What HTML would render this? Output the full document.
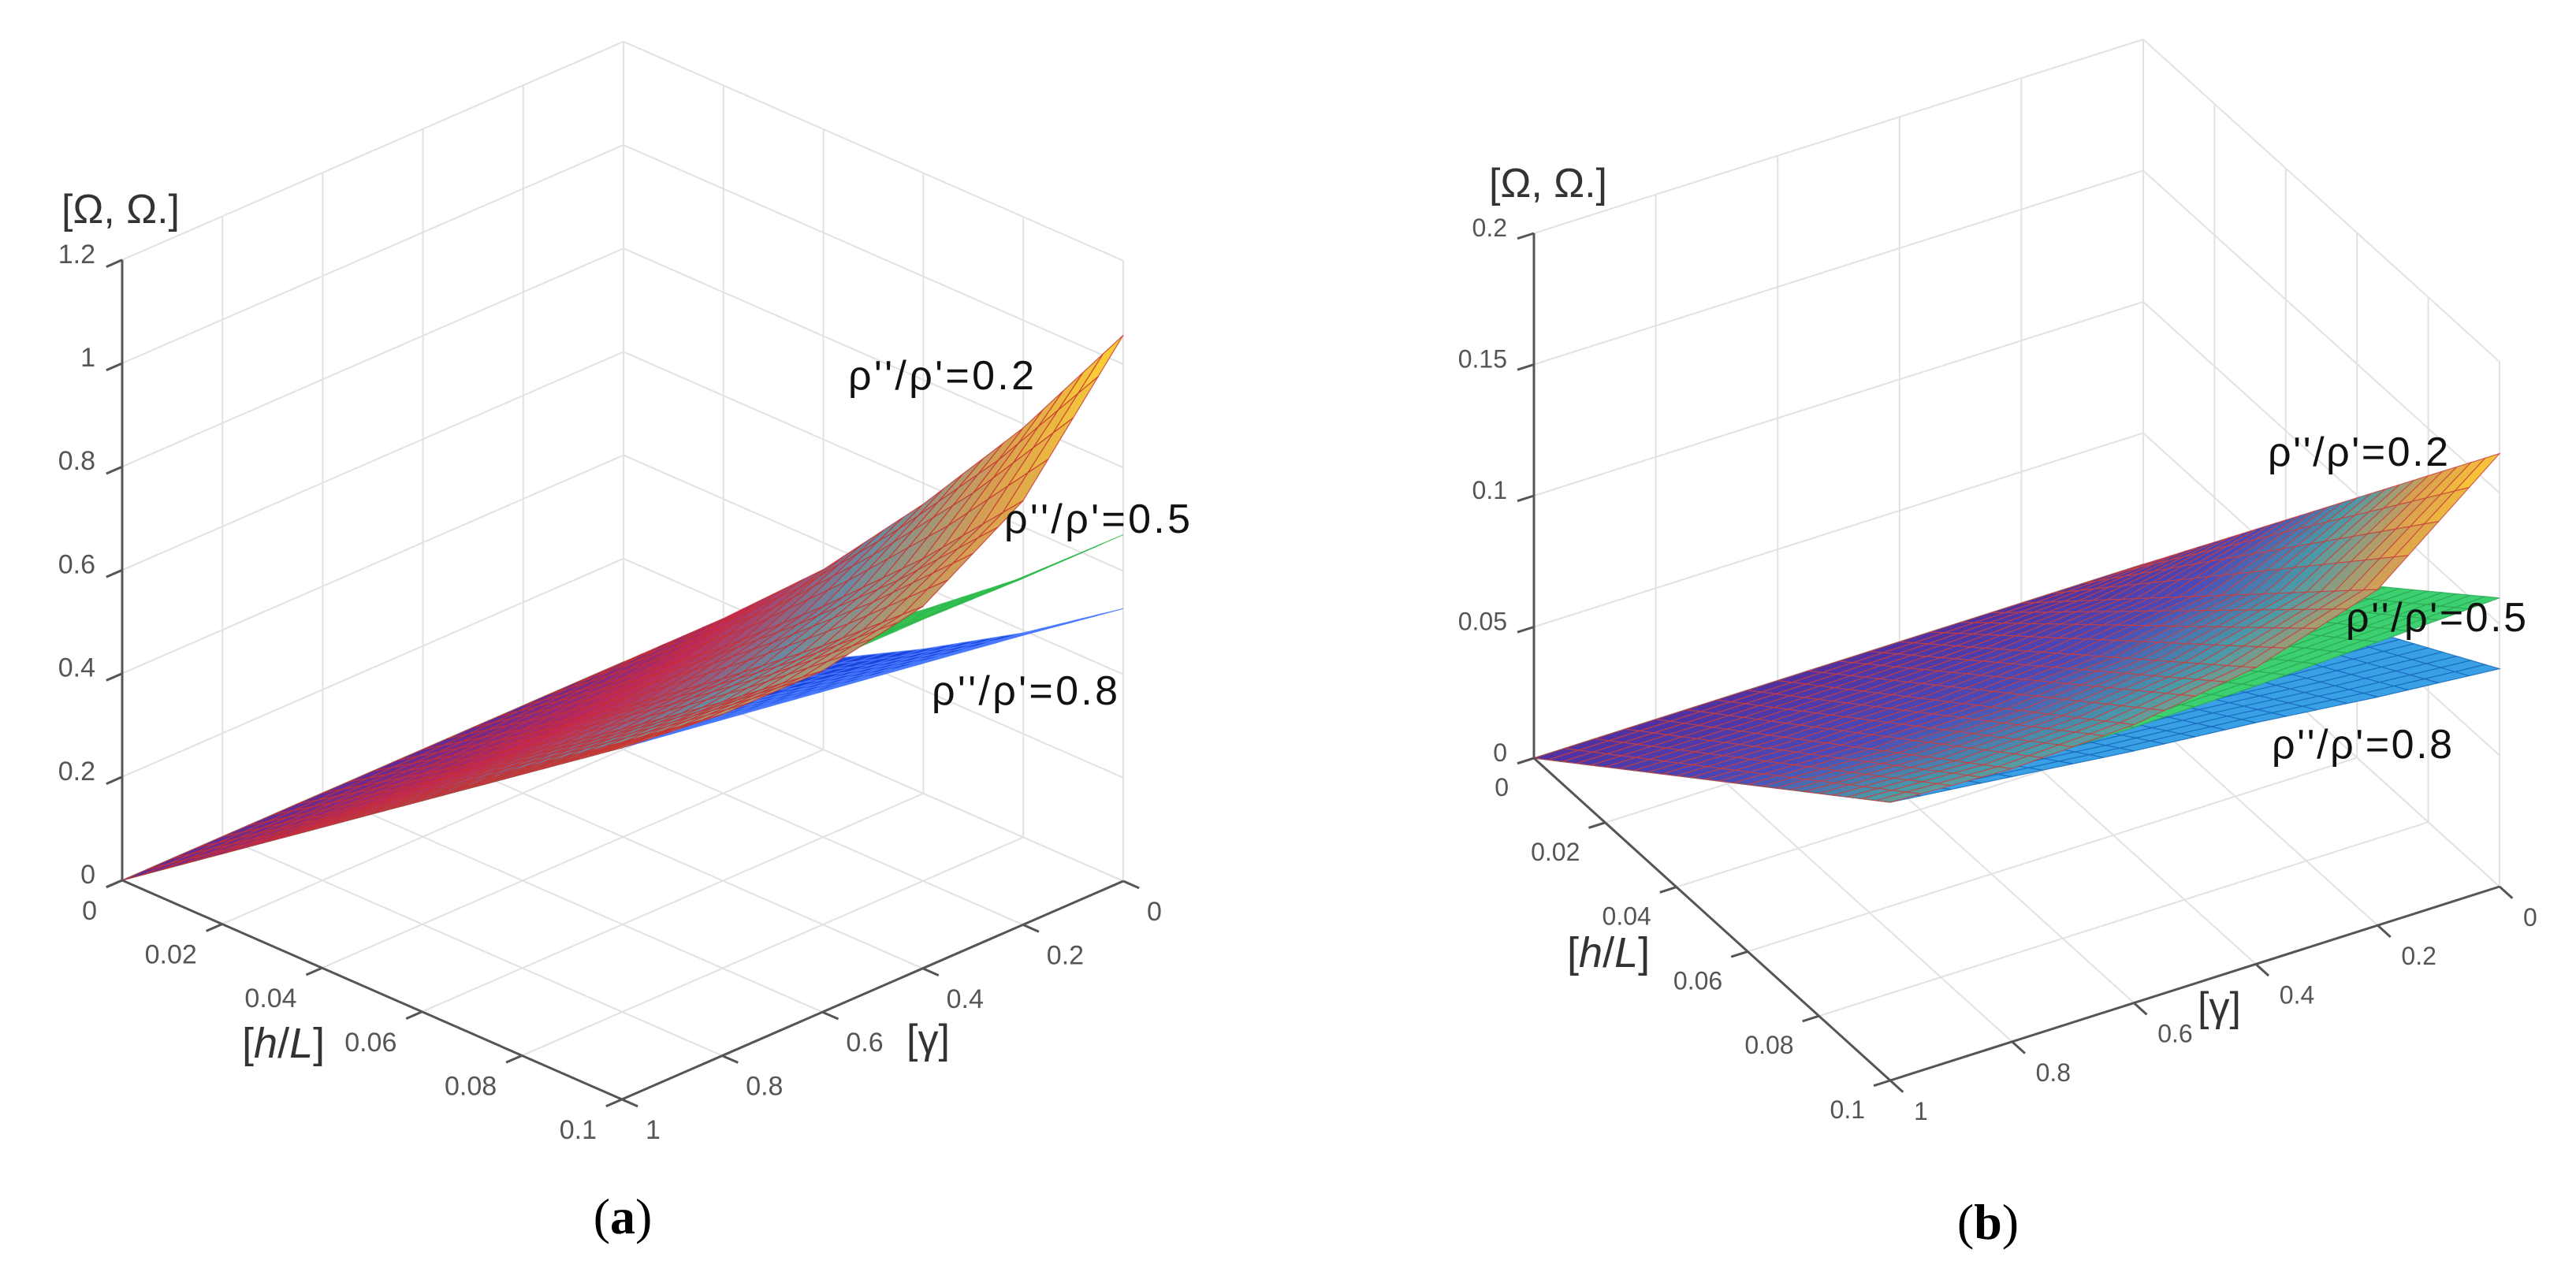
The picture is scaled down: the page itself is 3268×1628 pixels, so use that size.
<!DOCTYPE html>
<html><head><meta charset="utf-8">
<style>
html,body{margin:0;padding:0;background:#fff;}
svg{display:block;font-family:"Liberation Sans",sans-serif;}
</style></head>
<body>
<div style="position:relative;width:3268px;height:1628px;">
<svg id="fig" width="3268" height="1628" viewBox="0 0 3268 1628" xmlns="http://www.w3.org/2000/svg" style="position:absolute;left:0;top:0">
<rect width="3268" height="1628" fill="#fff"/>
<g id="panelA"></g>
<g id="panelB"></g>
<text x="790" y="1565" font-family="Liberation Serif,serif" font-size="64" text-anchor="middle">(<tspan font-weight="bold">a</tspan>)</text>
<text x="2522" y="1572" font-family="Liberation Serif,serif" font-size="64" text-anchor="middle">(<tspan font-weight="bold">b</tspan>)</text>
<g font-family="Liberation Sans,sans-serif">
<text x="78" y="283" font-size="52" fill="#333">[Ω, Ω.]</text>
<text x="307" y="1342" font-size="54" fill="#333">[<tspan font-style="italic">h</tspan>/<tspan font-style="italic">L</tspan>]</text>
<text x="1150" y="1336" font-size="52" fill="#333">[γ]</text>
<text x="1076" y="494" font-size="52" fill="#111" textLength="236">ρ''/ρ'=0.2</text>
<text x="1274" y="676" font-size="52" fill="#111" textLength="236">ρ''/ρ'=0.5</text>
<text x="1182" y="894" font-size="52" fill="#111" textLength="236">ρ''/ρ'=0.8</text>
<text x="1889" y="250" font-size="52" fill="#333">[Ω, Ω.]</text>
<text x="1988" y="1227" font-size="54" fill="#333">[<tspan font-style="italic">h</tspan>/<tspan font-style="italic">L</tspan>]</text>
<text x="2788" y="1295" font-size="52" fill="#333">[γ]</text>
<text x="2877" y="591" font-size="52" fill="#111" textLength="229">ρ''/ρ'=0.2</text>
<text x="2976" y="801" font-size="52" fill="#111" textLength="229">ρ''/ρ'=0.5</text>
<text x="2882" y="962" font-size="52" fill="#111" textLength="229">ρ''/ρ'=0.8</text>
</g>
</svg>
</div>
<script>
// ---- data ----
const hTicks = [0, 0.02, 0.04, 0.06, 0.08, 0.1];
const hTickLabels = ["0", "0.02", "0.04", "0.06", "0.08", "0.1"];
const gammaTicks = [0, 0.2, 0.4, 0.6, 0.8, 1];
const gammaTickLabels = ["0", "0.2", "0.4", "0.6", "0.8", "1"];
const zTicksA = [0, 0.2, 0.4, 0.6, 0.8, 1, 1.2];
const zTickLabelsA = ["0", "0.2", "0.4", "0.6", "0.8", "1", "1.2"];
const zTicksB = [0, 0.05, 0.1, 0.15, 0.2];
const zTickLabelsB = ["0", "0.05", "0.1", "0.15", "0.2"];
// values at h/L = 0.1 over gammaTicks (0..1)
const edgeA02 = [1.056, 0.82, 0.70, 0.66, 0.66, 0.68];
const edgeA05 = [0.67, 0.67, 0.675, 0.675, 0.68, 0.68];
const edgeA08 = [0.527, 0.56, 0.59, 0.62, 0.65, 0.68];
const edgeB02 = [0.165, 0.128, 0.113, 0.106, 0.104, 0.106];
const edgeB05 = [0.110, 0.108, 0.106, 0.105, 0.105, 0.106];
const edgeB08 = [0.083, 0.087, 0.092, 0.096, 0.101, 0.106];
// fraction of the h=0.1 value reached at hTicks, at gamma=0 and gamma=1
const hShapeA_g0 = [0, 0.16, 0.33, 0.53, 0.75, 1];
const hShapeA_g1 = [0, 0.2, 0.4, 0.6, 0.8, 1];
const hShapeB_g0 = [0, 0.2, 0.4, 0.6, 0.8, 1];
const hShapeB_g1 = [0, 0.2, 0.4, 0.6, 0.8, 1];

const NS = "http://www.w3.org/2000/svg";
function mk(tag, attrs, parent){
  const e = document.createElementNS(NS, tag);
  for (const k in attrs) e.setAttribute(k, attrs[k]);
  parent.appendChild(e);
  return e;
}
function interp(xs, ys, x){
  for (let i=0;i<xs.length-1;i++){
    if (x<=xs[i+1]+1e-12){const t=(x-xs[i])/(xs[i+1]-xs[i]);return ys[i]+t*(ys[i+1]-ys[i]);}
  }
  return ys[ys.length-1];
}
function hex(c){return [parseInt(c.substr(1,2),16),parseInt(c.substr(3,2),16),parseInt(c.substr(5,2),16)];}
function grad(stops, t){
  t=Math.max(0,Math.min(1,t));
  for(let i=0;i<stops.length-1;i++){
    if(t<=stops[i+1][0]){
      const u=(t-stops[i][0])/(stops[i+1][0]-stops[i][0]);
      const a=hex(stops[i][1]),b=hex(stops[i+1][1]);
      return "rgb("+a.map((v,k)=>Math.round(v+u*(b[k]-v))).join(",")+")";
    }
  }
  return stops[stops.length-1][1];
}

function renderPanel(g, cfg){
  const P=(h,ga,z)=>[cfg.P0[0]+(h/0.1)*cfg.Vh[0]+(1-ga)*cfg.Vg[0], cfg.P0[1]+(h/0.1)*cfg.Vh[1]+(1-ga)*cfg.Vg[1]-z*cfg.S];
  const zmax=cfg.zTicks[cfg.zTicks.length-1];
  const grid=mk("g",{stroke:"#e2e2e2","stroke-width":2,fill:"none"},g);
  
  
  const line=(a,b,par)=>mk("line",{x1:a[0],y1:a[1],x2:b[0],y2:b[1]},par);
  gammaTicks.forEach(ga=>{line(P(0,ga,0),P(0,ga,zmax),grid);line(P(0,ga,0),P(0.1,ga,0),grid);});
  hTicks.forEach(h=>{line(P(h,0,0),P(h,0,zmax),grid);line(P(h,0,0),P(h,1,0),grid);});
  cfg.zTicks.forEach(z=>{line(P(0,1,z),P(0,0,z),grid);line(P(0,0,z),P(0.1,0,z),grid);});
  line(P(0.1,0,0),P(0.1,0,zmax),grid);

  const nh=25, ng=20;
  cfg.surfaces.forEach(sf=>{
    const sg=mk("g",{},g);
    
    
    const peak=Math.max(...sf.edge);
    const val=(h,ga)=>{
      const s=(1-ga)*interp(hTicks,cfg.shapeG0,h)+ga*interp(hTicks,cfg.shapeG1,h);
      return s*interp(gammaTicks,sf.edge,ga);
    };
    const cells=[];
    for(let i=0;i<nh;i++)for(let j=0;j<ng;j++){
      const h0=0.1*i/nh,h1=0.1*(i+1)/nh,g0=j/ng,g1=(j+1)/ng;
      const pts=[[h0,g0],[h1,g0],[h1,g1],[h0,g1]].map(p=>P(p[0],p[1],val(p[0],p[1])));
      const zc=val((h0+h1)/2,(g0+g1)/2);
      cells.push({d:(h0+h1)/0.2+(g0+g1)/2,pts,zc});
    }
    cells.sort((a,b)=>a.d-b.d);
    cells.forEach(c=>{
      const fill=sf.stops?grad(sf.stops,c.zc/peak):sf.fill;
      mk("polygon",{points:c.pts.map(p=>p[0].toFixed(1)+","+p[1].toFixed(1)).join(" "),fill:fill,stroke:sf.stroke,"stroke-width":1.2,"stroke-opacity":0.8},sg);
    });
  });

  const ax=mk("g",{stroke:"#555","stroke-width":3,fill:"none"},g);
  
  
  line(P(0,1,0),P(0,1,zmax),ax);
  line(P(0,1,0),P(0.1,1,0),ax);
  line(P(0.1,1,0),P(0.1,0,0),ax);
  const nv=v=>{const L=Math.hypot(v[0],v[1]);return [v[0]/L,v[1]/L];};
  const ug=nv(cfg.Vg), uh=nv(cfg.Vh);
  const lab=mk("g",{fill:"#555","font-size":cfg.tickFont},g);
  
  
  cfg.zTicks.forEach((z,k)=>{
    const p=P(0,1,z);
    line(p,[p[0]-ug[0]*22,p[1]-ug[1]*22],ax);
    const t=mk("text",{x:p[0]-34,y:p[1]+4,"text-anchor":"end"},lab);
    t.textContent=cfg.zLabels[k];
  });
  hTicks.forEach((h,k)=>{
    const p=P(h,1,0);
    line(p,[p[0]-ug[0]*22,p[1]-ug[1]*22],ax);
    const t=mk("text",{x:p[0]-32,y:p[1]+cfg.hLabDy,"text-anchor":"end"},lab);
    t.textContent=hTickLabels[k];
  });
  gammaTicks.forEach((ga,k)=>{
    const p=P(0.1,ga,0);
    line(p,[p[0]+uh[0]*22,p[1]+uh[1]*22],ax);
    const t=mk("text",{x:p[0]+cfg.gLabDx,y:p[1]+cfg.gLabDy,"text-anchor":"start"},lab);
    t.textContent=gammaTickLabels[k];
  });
}

renderPanel(document.getElementById("panelA"),{
  P0:[155,1117], Vh:[634,278], Vg:[636,-277], S:656,
  zTicks:zTicksA, zLabels:zTickLabelsA, tickFont:34, hLabDy:50, gLabDx:30, gLabDy:50,
  shapeG0:hShapeA_g0, shapeG1:hShapeA_g1,
  surfaces:[
    {name:"surface-rho-0.8",edge:edgeA08,fill:"#1a44dc",stroke:"#4a7cff"},
    {name:"surface-rho-0.5",edge:edgeA05,fill:"#3cd35c",stroke:"#30b84c"},
    {name:"surface-rho-0.2",edge:edgeA02,stroke:"#c83030",stops:[[0,"#5a2a9c"],[0.2,"#c0285a"],[0.45,"#6a8aa0"],[0.72,"#d8a050"],[1,"#ffd630"]]}
  ]});
renderPanel(document.getElementById("panelB"),{
  P0:[1946,962], Vh:[452,409], Vg:[773,-246], S:3330,
  zTicks:zTicksB, zLabels:zTickLabelsB, tickFont:32, hLabDy:48, gLabDx:30, gLabDy:50,
  shapeG0:hShapeB_g0, shapeG1:hShapeB_g1,
  surfaces:[
    {name:"surface-rho-0.8",edge:edgeB08,fill:"#3aa0e6",stroke:"#1466b8"},
    {name:"surface-rho-0.5",edge:edgeB05,fill:"#3cd070",stroke:"#2aa850"},
    {name:"surface-rho-0.2",edge:edgeB02,stroke:"#c84040",stops:[[0,"#5030a0"],[0.35,"#4a4ab8"],[0.6,"#4a9aa8"],[0.8,"#d8a050"],[1,"#ffcc30"]]}
  ]});
</script>
</body></html>
